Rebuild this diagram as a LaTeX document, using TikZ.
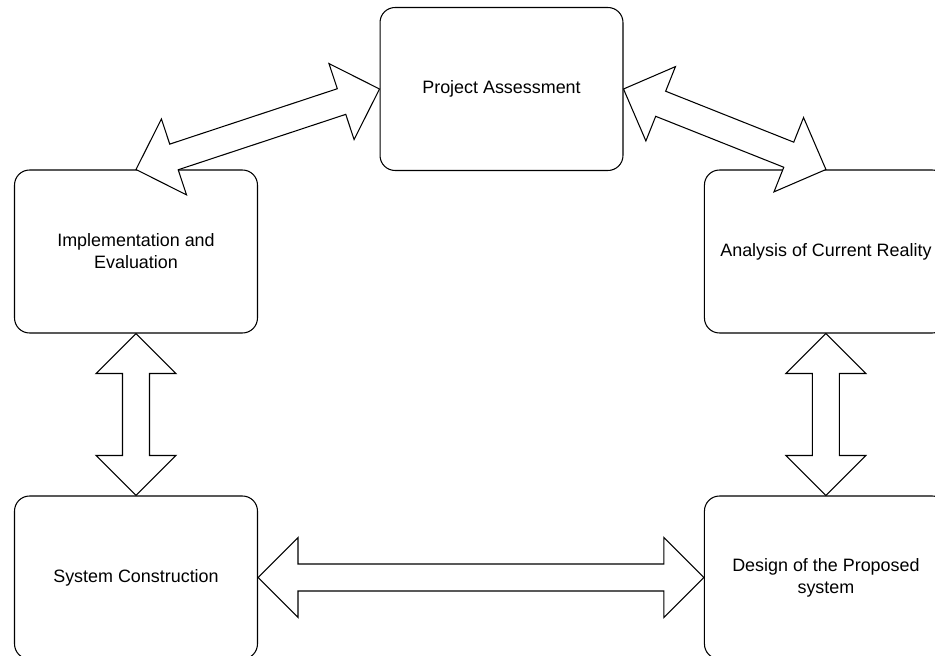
\documentclass[tikz,border=0pt]{standalone}
\usepackage{fontspec}
\setmainfont{Liberation Sans}
\usetikzlibrary{positioning, calc}

% hollow double-headed arrow between two anchors
\newcommand{\biarrow}[2]{%
  \draw[fill=white, line width=0.6pt] (#1)
    -- ($(#1)!0.8cm!(#2)!0.8cm!90:(#2)$)
    -- ($(#1)!0.8cm!(#2)!0.27cm!90:(#2)$)
    -- ($(#2)!0.8cm!(#1)!0.27cm!-90:(#1)$)
    -- ($(#2)!0.8cm!(#1)!0.8cm!-90:(#1)$)
    -- (#2)
    -- ($(#2)!0.8cm!(#1)!0.8cm!90:(#1)$)
    -- ($(#2)!0.8cm!(#1)!0.27cm!90:(#1)$)
    -- ($(#1)!0.8cm!(#2)!0.27cm!-90:(#2)$)
    -- ($(#1)!0.8cm!(#2)!0.8cm!-90:(#2)$)
    -- cycle;}

\begin{document}
\begin{tikzpicture}[x=0.02cm, y=-0.02cm, node distance=3.24cm and 8.92cm,
    stage/.style={rectangle, draw, line width=0.6pt, rounded corners=0.3cm,
      minimum width=4.86cm, minimum height=3.26cm, align=center,
      font=\fontsize{10.2pt}{12.5pt}\selectfont}]
        \useasboundingbox (0,0) rectangle (935,655);

        \node[stage] (assess) at (501.5,89) {Project Assessment};
        \node[stage] (impl) at (136,251.5) {Implementation and\\Evaluation};
        \node[stage, below=of impl] (build) {System Construction};
        \node[stage, right=of build] (design) {Design of the Proposed\\system};
        \node[stage, above=of design] (analysis) {Analysis of Current Reality};

        \biarrow{assess.west}{impl.north}
        \biarrow{assess.east}{analysis.north}
        \biarrow{impl.south}{build.north}
        \biarrow{analysis.south}{design.north}
        \biarrow{build.east}{design.west}
    \end{tikzpicture}
\end{document}
